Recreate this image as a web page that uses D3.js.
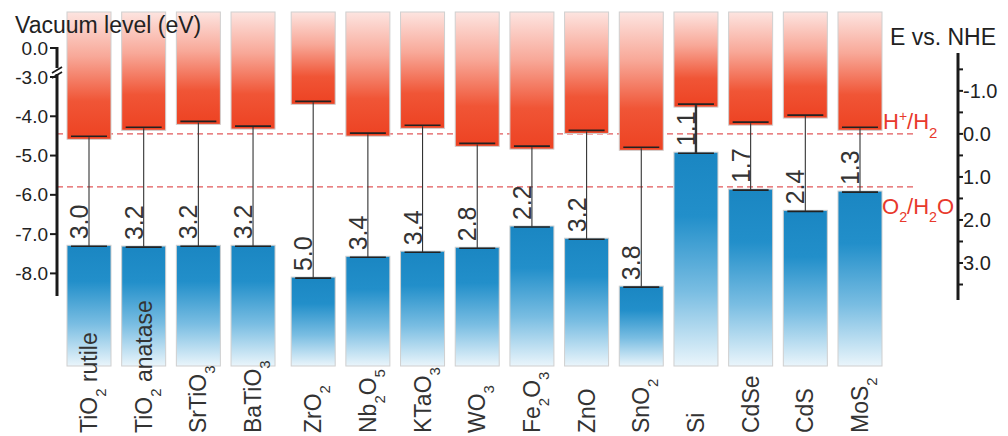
<!DOCTYPE html>
<html>
<head>
<meta charset="utf-8">
<script src="https://cdn.jsdelivr.net/npm/d3@7"></script>
<style>
  body { margin: 0; background: #fff; }
  text { font-family: "Liberation Sans", Arial, sans-serif; }
</style>
</head>
<body>
<div id="chart"></div>
<script>
// materials, "_n" marks a subscript digit
var materials = ["TiO_2 rutile", "TiO_2 anatase", "SrTiO_3", "BaTiO_3", "ZrO_2", "Nb_2O_5", "KTaO_3",
                 "WO_3", "Fe_2O_3", "ZnO", "SnO_2", "Si", "CdSe", "CdS", "MoS_2"];
// band edges vs vacuum level (eV)
var cbEdge = [-4.51, -4.28, -4.13, -4.25, -3.62, -4.43, -4.23, -4.69, -4.76, -4.36, -4.79, -3.69, -4.15, -3.97, -4.28];
var vbEdge = [-7.31, -7.33, -7.31, -7.31, -8.12, -7.59, -7.46, -7.36, -6.82, -7.13, -8.35, -4.94, -5.88, -6.42, -5.93];
var gapLabels = ["3.0", "3.2", "3.2", "3.2", "5.0", "3.4", "3.4", "2.8", "2.2", "3.2", "3.8", "1.1", "1.7", "2.4", "1.3"];
var vacTicks = [0, -3, -4, -5, -6, -7, -8];
var nheTicks = [-1, 0, 1, 2, 3];
var nheMinor = [-1.5, -0.5, 0.5, 1.5, 2.5, 3.5];
var redoxPot = [0, 1.23];

var width = 1008, height = 436;
var barW = 44;

var svg = d3.select("#chart").append("svg")
    .attr("width", width)
    .attr("height", height);

var defs = svg.append("defs");
var redGrad = defs.append("linearGradient").attr("id", "redGrad")
    .attr("x1", 0).attr("y1", 0).attr("x2", 0).attr("y2", 1);
[[0, "#fde4e0"], [0.35, "#f8a898"], [0.7, "#f05536"], [1, "#ed4222"]].forEach(function(s){
    redGrad.append("stop").attr("offset", s[0]).attr("stop-color", s[1]);
});
var blueGrad = defs.append("linearGradient").attr("id", "blueGrad")
    .attr("x1", 0).attr("y1", 0).attr("x2", 0).attr("y2", 1);
[[0, "#1a86c2"], [0.3, "#228fca"], [0.65, "#79bde2"], [1, "#eaf5fb"]].forEach(function(s){
    blueGrad.append("stop").attr("offset", s[0]).attr("stop-color", s[1]);
});

// index -> left edge, small extra gap after BaTiO3
var xIdx = d3.scaleLinear().domain([0, 14.1]).range([67, 838]);
function xLeft(i){ return xIdx(i + (i >= 4 ? 0.1 : 0)); }
function xMid(i){ return xLeft(i) + barW / 2; }

// vacuum scale with axis break between 0 and -3
var yVac = d3.scaleLinear().domain([0, -3, -8.55]).range([48, 77, 295]);
var yNhe = d3.scaleLinear().domain([-1.88, 3.86]).range([53, 300]);

var fmt = function(v){ return d3.format(".1f")(v).replace("\u2212", "-"); };

// redox dashed lines
svg.selectAll(".redox").data(redoxPot).enter().append("line")
    .attr("x1", 57).attr("x2", 915)
    .attr("y1", function(d){ return yNhe(d); })
    .attr("y2", function(d){ return yNhe(d); })
    .style("stroke", "#e0484a")
    .style("stroke-width", 1.4)
    .style("stroke-dasharray", "6,4")
    .style("opacity", 0.9);

var idx = d3.range(materials.length);

// conduction band boxes
svg.selectAll(".cb").data(idx).enter().append("rect")
    .attr("x", function(i){ return xLeft(i); })
    .attr("y", 12)
    .attr("width", barW)
    .attr("height", function(i){ return yVac(cbEdge[i]) + 3 - 12; })
    .style("fill", "url(#redGrad)")
    .style("stroke", "#cfcfcf")
    .style("stroke-width", 1);

// valence band boxes
svg.selectAll(".vb").data(idx).enter().append("rect")
    .attr("x", function(i){ return xLeft(i); })
    .attr("y", function(i){ return yVac(vbEdge[i]) - 1; })
    .attr("width", barW)
    .attr("height", function(i){ return 366 - yVac(vbEdge[i]) + 1; })
    .style("fill", "url(#blueGrad)")
    .style("stroke", "#cfcfcf")
    .style("stroke-width", 1);

// edge lines + connector
idx.forEach(function(i){
    [cbEdge[i], vbEdge[i]].forEach(function(e){
        svg.append("line")
            .attr("x1", xLeft(i) + 4).attr("x2", xLeft(i) + barW - 4)
            .attr("y1", yVac(e)).attr("y2", yVac(e))
            .style("stroke", "#222").style("stroke-width", 1.6);
    });
    svg.append("line")
        .attr("x1", xMid(i)).attr("x2", xMid(i))
        .attr("y1", yVac(cbEdge[i]) + 1).attr("y2", yVac(vbEdge[i]))
        .style("stroke", "#333").style("stroke-width", materials[i] === "Si" ? 2.4 : 1.1);
});

// band gap labels
svg.selectAll(".gap").data(idx).enter().append("text")
    .attr("transform", function(i){
        return "translate(" + (xMid(i) - 1) + "," + (yVac(vbEdge[i]) - 7) + ") rotate(-90)";
    })
    .style("font-size", "25px")
    .style("fill", "#333")
    .text(function(i){ return gapLabels[i]; });

// material names
function addFormula(sel, str, size){
    str.split(/_(\d)/).forEach(function(part, k){
        if (!part) return;
        var t = sel.append("tspan").text(part);
        if (k % 2 === 1) t.attr("baseline-shift", "sub").style("font-size", (size * 0.65) + "px");
    });
}
idx.forEach(function(i){
    var t = svg.append("text")
        .attr("transform", "translate(" + (xMid(i) + 8) + ",433) rotate(-90)")
        .style("font-size", "23px")
        .style("fill", "#333");
    addFormula(t, materials[i], 23);
});

// left axis
var left = svg.append("g");
left.append("line").attr("x1", 57).attr("x2", 57).attr("y1", 47).attr("y2", 68)
    .style("stroke", "#1a1a1a").style("stroke-width", 3);
left.append("line").attr("x1", 57).attr("x2", 57).attr("y1", 74).attr("y2", 296)
    .style("stroke", "#1a1a1a").style("stroke-width", 3);
[71, 76].forEach(function(b){
    left.append("line").attr("x1", 52).attr("x2", 62)
        .attr("y1", b + 2).attr("y2", b - 4)
        .style("stroke", "#1a1a1a").style("stroke-width", 1.8);
});
left.selectAll(".lt").data(vacTicks).enter().append("line")
    .attr("x1", 50).attr("x2", 57)
    .attr("y1", function(d){ return yVac(d); })
    .attr("y2", function(d){ return yVac(d); })
    .style("stroke", "#1a1a1a").style("stroke-width", 2);
left.selectAll(".ll").data(vacTicks).enter().append("text")
    .attr("x", 48)
    .attr("y", function(d){ return yVac(d); })
    .attr("dy", "0.35em")
    .attr("text-anchor", "end")
    .style("font-size", "19px")
    .style("fill", "#222")
    .text(fmt);

// right axis
var right = svg.append("g");
right.append("line").attr("x1", 958).attr("x2", 958).attr("y1", 53).attr("y2", 300)
    .style("stroke", "#1a1a1a").style("stroke-width", 3);
right.selectAll(".rt").data(nheTicks.concat(nheMinor)).enter().append("line")
    .attr("x1", 958).attr("x2", 963)
    .attr("y1", function(d){ return yNhe(d); })
    .attr("y2", function(d){ return yNhe(d); })
    .style("stroke", "#1a1a1a").style("stroke-width", 2);
right.selectAll(".rl").data(nheTicks).enter().append("text")
    .attr("x", 963)
    .attr("y", function(d){ return yNhe(d); })
    .attr("dy", "0.35em")
    .style("font-size", "20px")
    .style("fill", "#222")
    .text(fmt);

// redox labels
var h = svg.append("text").attr("x", 883).attr("y", yNhe(redoxPot[0]) - 5)
    .style("font-size", "22px").style("fill", "#e8392c");
h.append("tspan").text("H");
h.append("tspan").text("+").attr("baseline-shift", "super").style("font-size", "14px");
h.append("tspan").text("/H");
h.append("tspan").text("2").attr("baseline-shift", "sub").style("font-size", "15px");

var o = svg.append("text").attr("x", 882).attr("y", yNhe(redoxPot[1]) + 27)
    .style("font-size", "22px").style("fill", "#e8392c");
addFormula(o, "O_2/H_2O", 22);

// titles
svg.append("text").attr("x", 15).attr("y", 33)
    .style("font-size", "23px").style("fill", "#222")
    .text("Vacuum level (eV)");
svg.append("text").attr("x", 890).attr("y", 45)
    .style("font-size", "23px").style("fill", "#222")
    .text("E vs. NHE");
</script>
</body>
</html>
